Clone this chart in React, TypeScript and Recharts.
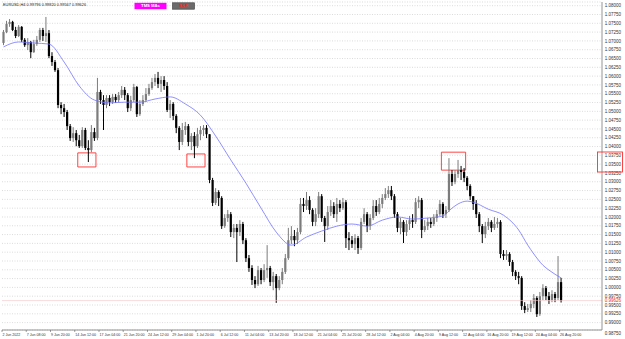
import React from 'react'
import {
  ComposedChart, Bar, Line, XAxis, YAxis, CartesianGrid, ReferenceArea, ReferenceLine,
} from 'recharts'

// ── Data (EURUSD, prices × 10⁴, one candle per two H4 bars) ─────────────────

const opens = [
  10694, 10725, 10748, 10754, 10731, 10714, 10740, 10703, 10688, 10697,
  10668, 10691, 10703, 10731, 10714, 10722, 10657, 10640, 10617, 10518,
  10509, 10498, 10458, 10424, 10438, 10418, 10401, 10447, 10396, 10390,
  10441, 10424, 10555, 10532, 10518, 10538, 10526, 10541, 10532, 10546,
  10561, 10546, 10509, 10532, 10569, 10492, 10521, 10532, 10549, 10566,
  10583, 10595, 10578, 10589, 10572, 10504, 10521, 10487, 10453, 10413,
  10447, 10458, 10413, 10430, 10401, 10435, 10447, 10453, 10435, 10305,
  10240, 10271, 10254, 10174, 10197, 10208, 10157, 10169, 10157, 10180,
  10134, 10083, 10055, 10021, 10009, 10049, 10021, 10049, 10055, 10015,
  10032, 9998, 10021, 10044, 10083, 10134, 10146, 10134, 10157, 10237,
  10231, 10248, 10220, 10186, 10208, 10259, 10197, 10174, 10214, 10231,
  10208, 10237, 10225, 10242, 10140, 10134, 10123, 10140, 10112, 10186,
  10208, 10174, 10197, 10231, 10214, 10237, 10254, 10265, 10276, 10259,
  10208, 10169, 10186, 10157, 10180, 10191, 10186, 10242, 10248, 10163,
  10174, 10186, 10180, 10197, 10208, 10237, 10208, 10220, 10322, 10299,
  10322, 10333, 10328, 10311, 10288, 10259, 10237, 10208, 10174, 10151,
  10174, 10186, 10169, 10180, 10186, 10095, 10089, 10095, 10072, 10044,
  10032, 10027, 9947, 9936, 9941, 9953, 9970, 9924, 9975, 9998,
  9975, 9964, 9981, 9970, 10015,
]

const highs = [
  10731, 10757, 10762, 10757, 10740, 10745, 10742, 10708, 10708, 10700,
  10703, 10714, 10737, 10737, 10768, 10731, 10668, 10646, 10623, 10526,
  10521, 10504, 10464, 10455, 10447, 10433, 10455, 10453, 10418, 10461,
  10453, 10595, 10561, 10546, 10546, 10546, 10549, 10549, 10555, 10572,
  10569, 10552, 10544, 10578, 10572, 10532, 10546, 10566, 10578, 10595,
  10606, 10612, 10600, 10600, 10583, 10532, 10526, 10492, 10458, 10467,
  10470, 10464, 10438, 10441, 10453, 10458, 10461, 10461, 10435, 10311,
  10282, 10276, 10259, 10208, 10220, 10214, 10180, 10180, 10191, 10186,
  10140, 10092, 10063, 10032, 10061, 10055, 10066, 10120, 10061, 10044,
  10038, 10032, 10055, 10095, 10169, 10174, 10163, 10169, 10254, 10254,
  10271, 10259, 10225, 10225, 10271, 10265, 10203, 10231, 10248, 10242,
  10254, 10248, 10254, 10248, 10157, 10146, 10151, 10146, 10197, 10225,
  10214, 10208, 10248, 10248, 10254, 10265, 10282, 10288, 10288, 10265,
  10214, 10197, 10191, 10191, 10203, 10208, 10254, 10259, 10254, 10191,
  10197, 10197, 10208, 10220, 10248, 10242, 10231, 10367, 10333, 10333,
  10362, 10345, 10339, 10316, 10293, 10259, 10248, 10214, 10180, 10186,
  10197, 10191, 10200, 10197, 10191, 10106, 10106, 10100, 10078, 10049,
  10044, 10032, 9958, 9953, 9964, 9981, 9975, 9987, 10009, 10004,
  9987, 9992, 9987, 10089, 10027,
]

const lows = [
  10688, 10722, 10740, 10728, 10708, 10711, 10697, 10683, 10674, 10651,
  10666, 10686, 10697, 10700, 10697, 10651, 10629, 10612, 10509, 10492,
  10484, 10447, 10416, 10413, 10401, 10396, 10396, 10390, 10356, 10384,
  10416, 10418, 10521, 10447, 10509, 10515, 10521, 10524, 10526, 10538,
  10532, 10498, 10501, 10526, 10484, 10487, 10515, 10526, 10544, 10561,
  10572, 10566, 10555, 10561, 10498, 10481, 10475, 10438, 10390, 10404,
  10433, 10401, 10390, 10367, 10396, 10418, 10430, 10424, 10296, 10231,
  10234, 10231, 10166, 10169, 10186, 10143, 10140, 10072, 10146, 10123,
  10072, 10044, 10007, 9998, 10004, 10009, 10015, 10027, 10004, 9992,
  9956, 9992, 10009, 10038, 10078, 10123, 10117, 10123, 10151, 10214,
  10220, 10208, 10174, 10174, 10197, 10186, 10129, 10163, 10203, 10197,
  10186, 10214, 10220, 10112, 10106, 10112, 10106, 10095, 10106, 10180,
  10157, 10163, 10191, 10203, 10208, 10225, 10248, 10254, 10248, 10197,
  10157, 10151, 10126, 10146, 10163, 10169, 10180, 10225, 10140, 10157,
  10163, 10169, 10174, 10186, 10203, 10197, 10197, 10214, 10288, 10293,
  10311, 10305, 10299, 10276, 10248, 10220, 10197, 10157, 10126, 10140,
  10163, 10157, 10163, 10169, 10083, 10078, 10078, 10061, 10032, 10021,
  10009, 9936, 9927, 9930, 9930, 9941, 9916, 9919, 9964, 9964,
  9953, 9958, 9958, 9964, 9957,
]

const closes = [
  10725, 10748, 10754, 10731, 10714, 10740, 10703, 10688, 10697, 10668,
  10691, 10703, 10731, 10714, 10722, 10657, 10640, 10617, 10518, 10509,
  10498, 10458, 10424, 10438, 10418, 10401, 10447, 10396, 10390, 10441,
  10424, 10555, 10532, 10518, 10538, 10526, 10541, 10532, 10546, 10561,
  10546, 10509, 10532, 10569, 10492, 10521, 10532, 10549, 10566, 10583,
  10595, 10578, 10589, 10572, 10504, 10521, 10487, 10453, 10413, 10447,
  10458, 10413, 10430, 10401, 10435, 10447, 10453, 10435, 10305, 10240,
  10271, 10254, 10174, 10197, 10208, 10157, 10169, 10157, 10180, 10134,
  10083, 10055, 10021, 10009, 10049, 10021, 10049, 10055, 10015, 10032,
  9998, 10021, 10044, 10083, 10134, 10146, 10134, 10157, 10237, 10231,
  10248, 10220, 10186, 10208, 10259, 10197, 10174, 10214, 10231, 10208,
  10237, 10225, 10242, 10140, 10134, 10123, 10140, 10112, 10186, 10208,
  10174, 10197, 10231, 10214, 10237, 10254, 10265, 10276, 10259, 10208,
  10169, 10186, 10157, 10180, 10191, 10186, 10242, 10248, 10163, 10174,
  10186, 10180, 10197, 10208, 10237, 10208, 10220, 10322, 10299, 10322,
  10333, 10328, 10311, 10288, 10259, 10237, 10208, 10174, 10151, 10174,
  10186, 10169, 10180, 10186, 10095, 10089, 10095, 10072, 10044, 10032,
  10027, 9947, 9936, 9941, 9953, 9970, 9924, 9975, 9998, 9975,
  9964, 9981, 9970, 10015, 9963,
]

// moving average, read at every few candles
const maIndex = [
  0, 5, 10, 15, 20, 25, 30, 35, 40, 45, 50, 55, 60, 65, 70, 75, 80, 85, 90, 95,
  100, 105, 110, 115, 120, 125, 130, 135, 140, 145, 148, 150, 153, 155, 160, 165,
  170, 173, 175, 178, 180, 184,
]
const maValues = [
  10683, 10697, 10694, 10691, 10640, 10572, 10532, 10524, 10526, 10526, 10535, 10541,
  10521, 10489, 10430, 10362, 10296, 10225, 10157, 10120, 10143, 10160, 10174, 10180,
  10174, 10191, 10200, 10194, 10197, 10203, 10225, 10237, 10245, 10242, 10222, 10205,
  10163, 10120, 10095, 10063, 10049, 10027,
]

const timeLabels = [
  '2 Jun 2022', '7 Jun 08:00', '9 Jun 20:00', '14 Jun 12:00', '17 Jun 04:00', '21 Jun 20:00',
  '24 Jun 12:00', '29 Jun 04:00', '1 Jul 20:00', '6 Jul 12:00', '11 Jul 04:00', '13 Jul 20:00',
  '18 Jul 12:00', '21 Jul 04:00', '25 Jul 20:00', '28 Jul 12:00', '2 Aug 04:00', '4 Aug 20:00',
  '9 Aug 12:00', '12 Aug 04:00', '16 Aug 20:00', '19 Aug 12:00', '24 Aug 04:00', '26 Aug 20:00',
]

const priceTicks = [
  0.99, 0.9925, 0.995, 0.9975, 1.0, 1.0025, 1.005, 1.0075, 1.01, 1.0125, 1.015, 1.0175,
  1.02, 1.0225, 1.025, 1.0275, 1.03, 1.0325, 1.035, 1.0375, 1.04, 1.0425, 1.045, 1.0475,
  1.05, 1.0525, 1.055, 1.0575, 1.06, 1.0625, 1.065, 1.0675, 1.07, 1.0725, 1.075, 1.0775, 1.08,
]

const lastBid = 0.99626

// marked zones: [firstCandle, lastCandle, lowPrice, highPrice]
const zones = [
  [25, 30, 1.0342, 1.0382],
  [61, 66, 1.0342, 1.0379],
  [145, 152, 1.0333, 1.0384],
]

// ── Chart ───────────────────────────────────────────────────────────────────

const W = 625
const H = 339
const SLOTS = 198
const FONT = '"Liberation Sans", Arial, sans-serif'

const rows = Array.from({ length: SLOTS }, (_, i) => {
  if (i >= closes.length) return { i }
  const k = maIndex.indexOf(i)
  return {
    i,
    o: opens[i] / 1e4,
    h: highs[i] / 1e4,
    l: lows[i] / 1e4,
    c: closes[i] / 1e4,
    ma: k >= 0 ? maValues[k] / 1e4 : null,
  }
})

// eslint-disable-next-line @typescript-eslint/no-explicit-any
const Candle = (props: any) => {
  const { x, y, width, height, payload } = props
  if (!payload || payload.o == null) return null
  const top = Math.min(y, y + height)
  const span = Math.abs(height)
  const range = payload.h - payload.l || 1e-9
  const yOf = (v: number) => top + ((payload.h - v) / range) * span
  const cx = x + width / 2
  const up = payload.c >= payload.o
  const color = up ? '#7c7c7c' : '#000000'
  const bTop = yOf(Math.max(payload.o, payload.c))
  const bBot = yOf(Math.min(payload.o, payload.c))
  return (
    <g>
      <line x1={cx} x2={cx} y1={top} y2={top + span} stroke={color} strokeWidth={1} />
      <rect x={cx - 1.1} y={bTop} width={2.2} height={Math.max(bBot - bTop, 0.8)} fill={color} />
    </g>
  )
}

// eslint-disable-next-line @typescript-eslint/no-explicit-any
const TimeTick = ({ x, y, payload }: any) => {
  const label = timeLabels[payload.value / 8]
  if (!label) return null
  const tx = x - 1.5
  return (
    <g>
      <line x1={tx} x2={tx} y1={y} y2={y + 2} stroke="#606060" strokeWidth={0.6} />
      <text x={tx + 0.5} y={y + 5.8} fontSize={3.6} fontFamily={FONT} fill="#333">{label}</text>
    </g>
  )
}

// eslint-disable-next-line @typescript-eslint/no-explicit-any
const PriceTick = ({ x, y, payload }: any) => (
  <text x={x + 2.8} y={y + 1.6} fontSize={4.5} fontFamily={FONT} fill="#333">
    {Number(payload.value).toFixed(5)}
  </text>
)

// eslint-disable-next-line @typescript-eslint/no-explicit-any
const BidLabel = ({ viewBox }: any) => {
  if (!viewBox) return null
  const x = viewBox.x + viewBox.width
  return (
    <g>
      <rect x={x + 1} y={viewBox.y - 2.6} width={21} height={5.2} fill="#ffffff" />
      <text x={x + 2.8} y={viewBox.y + 1.6} fontSize={4.5} fontFamily={FONT} fill="#e8262b">
        {lastBid.toFixed(5)}
      </text>
    </g>
  )
}

export default function App() {
  return (
    <div style={{ position: 'absolute', left: 0, top: 0, width: W, height: H, background: '#fff' }}>
      <ComposedChart
        width={W}
        height={H}
        data={rows}
        margin={{ top: 2, right: 0, bottom: 0, left: 2 }}
        barCategoryGap={0}
      >
        <CartesianGrid vertical={false} stroke="#c4c4c4" strokeDasharray="1 1.5" strokeWidth={0.6} />
        <XAxis
          dataKey="i"
          type="category"
          interval={7}
          height={9}
          tickSize={0}
          tickMargin={0}
          tickLine={false}
          axisLine={{ stroke: '#7a7a7a', strokeWidth: 0.8 }}
          tick={<TimeTick />}
        />
        <YAxis
          orientation="right"
          width={23}
          domain={[0.9879, 1.08105]}
          allowDataOverflow
          ticks={priceTicks}
          interval={0}
          tickSize={0}
          tickMargin={0}
          tickLine={false}
          axisLine={{ stroke: '#7a7a7a', strokeWidth: 0.8 }}
          tick={<PriceTick />}
        />
        <ReferenceLine y={lastBid} stroke="#f4c4c4" strokeWidth={0.6} label={<BidLabel />} ifOverflow="visible" />
        <Bar
          dataKey={(d: any) => (d.o == null ? undefined : [d.l, d.h])}
          shape={<Candle />}
          isAnimationActive={false}
        />
        <Line
          dataKey="ma"
          type="monotone"
          stroke="#7373ff"
          strokeWidth={0.8}
          dot={false}
          connectNulls
          isAnimationActive={false}
        />
        {zones.map(([a, b, lo, hi], n) => (
          <ReferenceArea
            key={n}
            x1={a}
            x2={b}
            y1={lo}
            y2={hi}
            fill="none"
            fillOpacity={0}
            stroke="#ff3030"
            strokeWidth={0.9}
            ifOverflow="visible"
          />
        ))}
      </ComposedChart>

      <svg
        width={W}
        height={H}
        style={{ position: 'absolute', left: 0, top: 0, pointerEvents: 'none' }}
      >
        <text x={3} y={5.6} fontSize={3.9} fontFamily={FONT} fill="#222">
          EURUSD,H4  0.99796 0.99820 0.99567 0.99626
        </text>
        <rect x={134.5} y={2.8} width={32} height={6.4} fill="#ff00ff" />
        <text x={150.5} y={7.3} fontSize={4.2} fontWeight="bold" fontFamily={FONT} fill="#fff" textAnchor="middle">
          TMS MAs
        </text>
        <rect x={172.5} y={2.8} width={22} height={6.4} fill="#6b6b6b" stroke="#3a3a3a" strokeWidth={0.6} />
        <text x={183.5} y={7.3} fontSize={4.2} fontWeight="bold" fontFamily={FONT} fill="#ff2020" textAnchor="middle">
          S&amp;R
        </text>
        <rect x={597.5} y={152} width={25} height={20} fill="none" stroke="#ff3030" strokeWidth={0.9} />
        <text x={604.8} y={335.3} fontSize={4.5} fontFamily={FONT} fill="#333">0.98750</text>
      </svg>
    </div>
  )
}
